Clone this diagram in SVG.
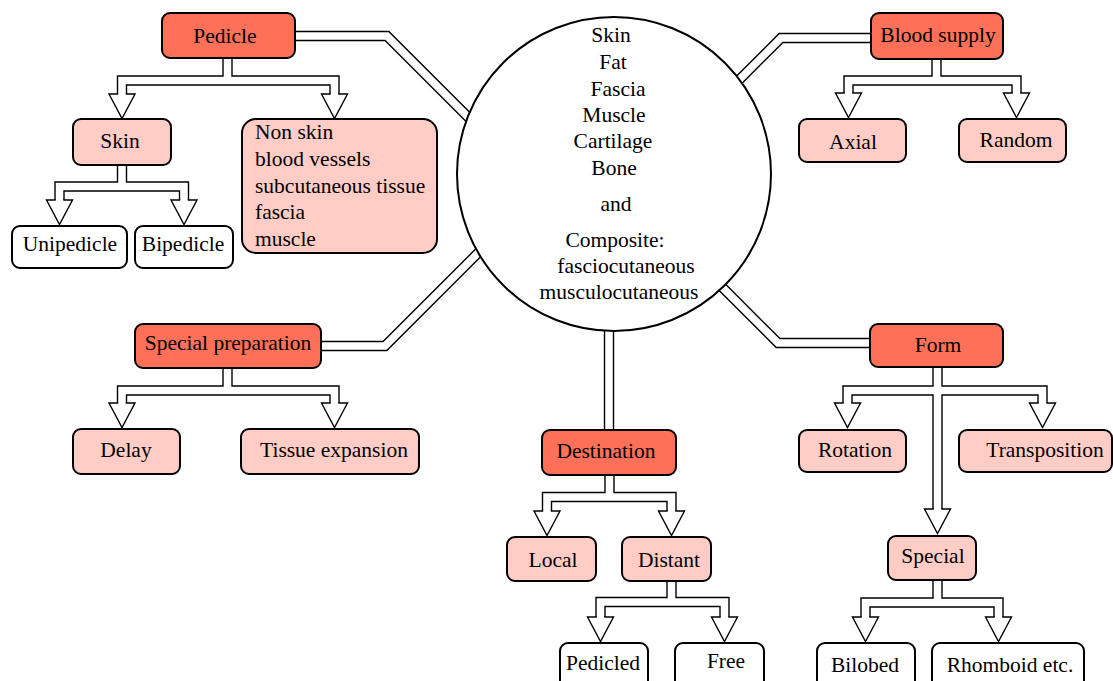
<svg xmlns="http://www.w3.org/2000/svg" xmlns:xlink="http://www.w3.org/1999/xlink" width="1113" height="681" viewBox="0 0 1113 681">
<style>
text{font-family:"Liberation Serif","Times New Roman",serif;font-size:21.5px;fill:#000;text-anchor:middle}
.l{text-anchor:start}
.box{stroke:#000;stroke-width:2}
.dark{fill:#FF7058}
.light{fill:#FFCDC5}
.white{fill:#fff}
.ob{fill:none;stroke:#000;stroke-width:10.4;stroke-linejoin:miter;stroke-linecap:butt}
.iw{fill:none;stroke:#fff;stroke-width:7.6;stroke-linejoin:miter;stroke-linecap:butt}
.ah{fill:#fff;stroke:#000;stroke-width:1.4;stroke-linejoin:miter;stroke-linecap:square}
</style>
<defs>
<path id="ah" d="M-4.5 0 H-13 L0 24.5 L13 0 H4.5"/>
<path id="c1" d="M295 36 H387 L490 139"/>
<path id="c2" d="M871 38 H781 L720 99"/>
<path id="c3" d="M321 346 H385 L488 243"/>
<path id="c4" d="M609 320 V430"/>
<path id="c5" d="M870 343 H778 L710 275"/>
<path id="f1" d="M227.5 58 V80.5 H122 V94 M227.5 80.5 H334.5 V94"/>
<path id="f2" d="M122 165 V186.5 H59.5 V200 M122 186.5 H184 V200"/>
<path id="f3" d="M936.5 59 V80.5 H848.5 V93 M936.5 80.5 H1016.5 V93"/>
<path id="f4" d="M227.5 368 V390.5 H122 V403 M227.5 390.5 H334.5 V403"/>
<path id="f5" d="M609.5 475 V497 H547 V511 M609.5 497 H671.5 V511"/>
<path id="f6" d="M671.5 581 V602 H600.5 V617 M671.5 602 H724.5 V617"/>
<path id="f7" d="M937.5 367 V390.5 H847.5 V403 M937.5 390.5 H1042.5 V403 M937.5 390.5 V509"/>
<path id="f8" d="M937.5 580 V602.5 H865.5 V617 M937.5 602.5 H998.5 V617"/>
</defs>
<g id="connectors">
<use xlink:href="#c1" class="ob"/><use xlink:href="#c1" class="iw"/>
<use xlink:href="#c2" class="ob"/><use xlink:href="#c2" class="iw"/>
<use xlink:href="#c3" class="ob"/><use xlink:href="#c3" class="iw"/>
<use xlink:href="#c4" class="ob"/><use xlink:href="#c4" class="iw"/>
<use xlink:href="#c5" class="ob"/><use xlink:href="#c5" class="iw"/>
<use xlink:href="#f1" class="ob"/><use xlink:href="#f1" class="iw"/>
<use xlink:href="#f2" class="ob"/><use xlink:href="#f2" class="iw"/>
<use xlink:href="#f3" class="ob"/><use xlink:href="#f3" class="iw"/>
<use xlink:href="#f4" class="ob"/><use xlink:href="#f4" class="iw"/>
<use xlink:href="#f5" class="ob"/><use xlink:href="#f5" class="iw"/>
<use xlink:href="#f6" class="ob"/><use xlink:href="#f6" class="iw"/>
<use xlink:href="#f7" class="ob"/><use xlink:href="#f7" class="iw"/>
<use xlink:href="#f8" class="ob"/><use xlink:href="#f8" class="iw"/>
<use xlink:href="#ah" class="ah" x="122" y="94"/>
<use xlink:href="#ah" class="ah" x="334.5" y="94"/>
<use xlink:href="#ah" class="ah" x="59.5" y="200"/>
<use xlink:href="#ah" class="ah" x="184" y="200"/>
<use xlink:href="#ah" class="ah" x="848.5" y="93"/>
<use xlink:href="#ah" class="ah" x="1016.5" y="93"/>
<use xlink:href="#ah" class="ah" x="122" y="403"/>
<use xlink:href="#ah" class="ah" x="334.5" y="403"/>
<use xlink:href="#ah" class="ah" x="547" y="511"/>
<use xlink:href="#ah" class="ah" x="671.5" y="511"/>
<use xlink:href="#ah" class="ah" x="600.5" y="617"/>
<use xlink:href="#ah" class="ah" x="724.5" y="617"/>
<use xlink:href="#ah" class="ah" x="847.5" y="403"/>
<use xlink:href="#ah" class="ah" x="1042.5" y="403"/>
<use xlink:href="#ah" class="ah" x="937.5" y="509"/>
<use xlink:href="#ah" class="ah" x="865.5" y="617"/>
<use xlink:href="#ah" class="ah" x="998.5" y="617"/>
</g>
<g id="center">
<circle cx="614" cy="174" r="157" fill="#fff" stroke="#000" stroke-width="2"/>
<text x="611" y="42">Skin</text>
<text x="613" y="69">Fat</text>
<text x="618" y="96">Fascia</text>
<text x="614" y="122">Muscle</text>
<text x="613" y="148">Cartilage</text>
<text x="614" y="175">Bone</text>
<text x="616" y="211">and</text>
<text x="615" y="247">Composite:</text>
<text x="626" y="273">fasciocutaneous</text>
<text x="619" y="299">musculocutaneous</text>
</g>
<g id="pedicle"><rect class="box dark" x="162" y="13" width="133" height="45" rx="8"/><text x="225" y="43">Pedicle</text></g>
<g id="skin"><rect class="box light" x="73" y="119" width="98" height="46" rx="8"/><text x="120" y="148">Skin</text></g>
<g id="nonskin"><rect class="box light" x="242" y="119" width="195" height="134" rx="14"/>
<text class="l" x="255" y="139">Non skin</text>
<text class="l" x="255" y="166">blood vessels</text>
<text class="l" x="255" y="193">subcutaneous tissue</text>
<text class="l" x="255" y="219">fascia</text>
<text class="l" x="255" y="246">muscle</text></g>
<g id="unipedicle"><rect class="box white" x="12" y="226" width="115" height="42" rx="8"/><text x="70" y="251">Unipedicle</text></g>
<g id="bipedicle"><rect class="box white" x="135" y="226" width="98" height="42" rx="8"/><text x="183" y="251">Bipedicle</text></g>
<g id="bloodsupply"><rect class="box dark" x="871" y="13" width="132" height="46" rx="8"/><text x="938" y="42">Blood supply</text></g>
<g id="axial"><rect class="box light" x="799" y="119" width="107" height="43" rx="8"/><text x="853" y="149">Axial</text></g>
<g id="random"><rect class="box light" x="959" y="119" width="107" height="43" rx="8"/><text x="1016" y="147">Random</text></g>
<g id="specialprep"><rect class="box dark" x="135" y="324" width="186" height="44" rx="8"/><text x="228" y="350">Special preparation</text></g>
<g id="delay"><rect class="box light" x="73" y="429" width="107" height="45" rx="8"/><text x="126" y="457">Delay</text></g>
<g id="tissueexp"><rect class="box light" x="241" y="429" width="178" height="45" rx="8"/><text x="334" y="457">Tissue expansion</text></g>
<g id="destination"><rect class="box dark" x="542" y="430" width="134" height="45" rx="8"/><text x="606" y="458">Destination</text></g>
<g id="local"><rect class="box light" x="507" y="537" width="89" height="44" rx="8"/><text x="553" y="567">Local</text></g>
<g id="distant"><rect class="box light" x="622" y="537" width="89" height="44" rx="8"/><text x="669" y="567">Distant</text></g>
<g id="pedicled"><rect class="box white" x="560" y="643" width="88" height="50" rx="8"/><text x="603" y="670">Pedicled</text></g>
<g id="free"><rect class="box white" x="675" y="643" width="89" height="50" rx="8"/><text x="726" y="668">Free</text></g>
<g id="form"><rect class="box dark" x="870" y="324" width="133" height="43" rx="8"/><text x="938" y="352">Form</text></g>
<g id="rotation"><rect class="box light" x="799" y="430" width="107" height="42" rx="8"/><text x="855" y="457">Rotation</text></g>
<g id="transposition"><rect class="box light" x="959" y="430" width="153" height="42" rx="8"/><text x="1045" y="457">Transposition</text></g>
<g id="special"><rect class="box light" x="888" y="536" width="88" height="44" rx="8"/><text x="933" y="563">Special</text></g>
<g id="bilobed"><rect class="box white" x="817" y="643" width="98" height="50" rx="8"/><text x="865" y="672">Bilobed</text></g>
<g id="rhomboid"><rect class="box white" x="932" y="643" width="152" height="50" rx="8"/><text x="1010" y="672">Rhomboid etc.</text></g>
</svg>
